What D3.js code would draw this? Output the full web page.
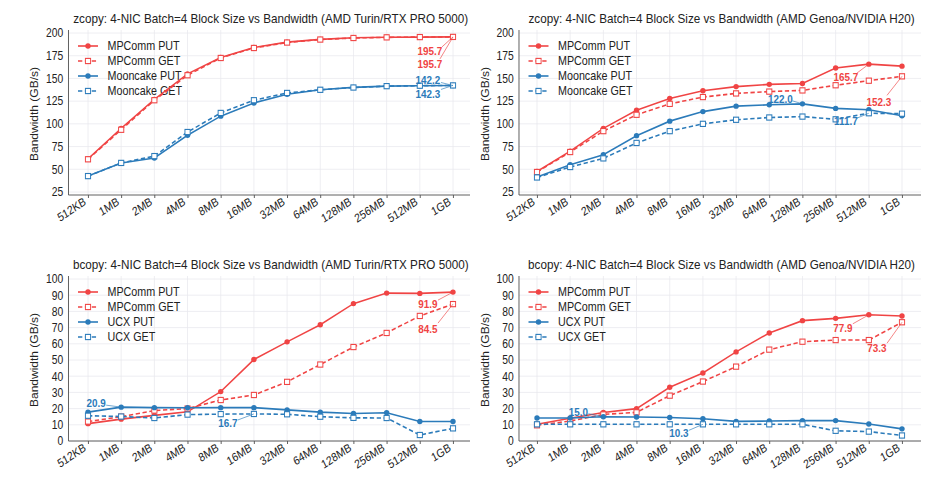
<!DOCTYPE html>
<html>
<head>
<meta charset="utf-8">
<script src="https://cdn.jsdelivr.net/npm/d3@7"></script>
<style>
body { margin: 0; background: #fff; }
svg { display: block; }
text { font-family: "Liberation Sans", Arial, sans-serif; }
</style>
</head>
<body>
<svg id="fig"></svg>
<script>
// block sizes on the x axis
var sizes = ["512KB", "1MB", "2MB", "4MB", "8MB", "16MB", "32MB", "64MB", "128MB", "256MB", "512MB", "1GB"];

// zcopy, AMD Turin / RTX PRO 5000
var zt_mpcomm_put = [61.5, 95, 127, 155, 173, 184, 190, 193, 194.8, 195.3, 195.5, 195.7];
var zt_mpcomm_get = [61, 93.5, 126, 153.5, 172.5, 183.5, 189.5, 192.8, 194.5, 195.2, 195.5, 195.7];
var zt_mooncake_put = [42.5, 57, 62.5, 87.5, 108.5, 123, 132.5, 137.5, 140.2, 141.5, 142, 142.2];
var zt_mooncake_get = [42.5, 57, 64.5, 91, 112, 126, 134, 137.5, 140, 141.5, 142, 142.3];

// zcopy, AMD Genoa / NVIDIA H20
var zg_mpcomm_put = [47.5, 70, 95, 115, 128, 136.5, 141, 143.5, 144.5, 161.5, 165.7, 163.5];
var zg_mpcomm_get = [47, 69, 92, 110, 122, 129.5, 133.5, 135.5, 136.8, 142.5, 147.5, 152.3];
var zg_mooncake_put = [41.5, 55, 66, 87, 103, 113.5, 119.5, 121, 122.0, 117, 115.5, 109];
var zg_mooncake_get = [41, 52.5, 62, 79, 92, 100, 104.5, 107, 108, 105, 111.7, 111.2];

// bcopy, AMD Turin / RTX PRO 5000
var bt_mpcomm_put = [10.7, 13.5, 15.8, 18, 30.5, 50.3, 61.2, 71.8, 84.8, 91.3, 91.1, 91.9];
var bt_mpcomm_get = [12, 15, 18.8, 20, 25.3, 28.4, 36.5, 47.2, 58, 66.7, 77.2, 84.5];
var bt_ucx_put = [17.8, 20.9, 20.6, 20.5, 20.6, 20.6, 19.2, 17.8, 17, 17.4, 12, 12];
var bt_ucx_get = [15.6, 15.1, 14.2, 16.3, 16.6, 16.7, 16.5, 15, 14.3, 14.2, 3.7, 7.8];

// bcopy, AMD Genoa / NVIDIA H20
var bg_mpcomm_put = [10.3, 14, 17.6, 20, 33.2, 42, 55, 66.7, 74.3, 75.7, 77.9, 77.2];
var bg_mpcomm_get = [9.7, 12.3, 16.4, 17.7, 28, 36.7, 45.9, 56.4, 61.3, 62.3, 62.3, 73.3];
var bg_ucx_put = [14.2, 14.2, 15.0, 14.8, 14.5, 13.7, 12.1, 12.3, 12.6, 12.6, 10.5, 7.5];
var bg_ucx_get = [10.3, 10.3, 10.3, 10.3, 10.3, 10.3, 10.3, 10.3, 10.3, 6.3, 5.8, 3.4];

var zcopy_ticks = [25, 50, 75, 100, 125, 150, 175, 200];
var bcopy_ticks = [0, 10, 20, 30, 40, 50, 60, 70, 80, 90, 100];

var RED = "#f04444", BLUE = "#2b7bba";

// the picture is squeezed horizontally, so draw wide and squash
var SX = 0.86, W = 942, H = 483;
var svg = d3.select("#fig")
    .attr("width", W).attr("height", H)
    .attr("viewBox", `0 0 ${W / SX} ${H}`)
    .attr("preserveAspectRatio", "none");

function series(name, values, color, dashed) {
    return {name: name, values: values, color: color, dashed: dashed};
}

var panels = [
    {
        title: "zcopy: 4-NIC Batch=4 Block Size vs Bandwidth (AMD Turin/RTX PRO 5000)",
        left: 68.5, right: 470, x0: 88, x1: 453, top: 33, bottom: 195, yb: 192,
        ydom: [25, 200], ticks: zcopy_ticks,
        series: [series("MPComm PUT", zt_mpcomm_put, RED, false),
                 series("MPComm GET", zt_mpcomm_get, RED, true),
                 series("Mooncake PUT", zt_mooncake_put, BLUE, false),
                 series("Mooncake GET", zt_mooncake_get, BLUE, true)],
        notes: [[0, 11, -23, 14, -11, 10], [1, 11, -23, 27, -13, 22],
                [2, 11, -25, -6, -12, -3], [3, 11, -25, 8, -12, 4]]
    },
    {
        title: "zcopy: 4-NIC Batch=4 Block Size vs Bandwidth (AMD Genoa/NVIDIA H20)",
        left: 519, right: 921, x0: 537, x1: 902, top: 33, bottom: 195, yb: 192,
        ydom: [25, 200], ticks: zcopy_ticks,
        series: [series("MPComm PUT", zg_mpcomm_put, RED, false),
                 series("MPComm GET", zg_mpcomm_get, RED, true),
                 series("Mooncake PUT", zg_mooncake_put, BLUE, false),
                 series("Mooncake GET", zg_mooncake_get, BLUE, true)],
        notes: [[0, 10, -23, 13, -12, 9], [1, 11, -23, 26, -15, 19],
                [2, 8, -22, -5, -10, -3], [3, 10, -23, 8, -12, 5]]
    },
    {
        title: "bcopy: 4-NIC Batch=4 Block Size vs Bandwidth (AMD Turin/RTX PRO 5000)",
        left: 68.5, right: 470, x0: 88, x1: 453, top: 279, bottom: 441, yb: 441,
        ydom: [0, 100], ticks: bcopy_ticks,
        series: [series("MPComm PUT", bt_mpcomm_put, RED, false),
                 series("MPComm GET", bt_mpcomm_get, RED, true),
                 series("UCX PUT", bt_ucx_put, BLUE, false),
                 series("UCX GET", bt_ucx_get, BLUE, true)],
        notes: [[2, 1, -25, -4, -15, -2], [3, 5, -26, 9, -16, 6],
                [0, 11, -25, 12, -15, 8], [1, 11, -25, 25, -15, 19]]
    },
    {
        title: "bcopy: 4-NIC Batch=4 Block Size vs Bandwidth (AMD Genoa/NVIDIA H20)",
        left: 519, right: 921, x0: 537, x1: 902, top: 279, bottom: 441, yb: 441,
        ydom: [0, 100], ticks: bcopy_ticks,
        series: [series("MPComm PUT", bg_mpcomm_put, RED, false),
                 series("MPComm GET", bg_mpcomm_get, RED, true),
                 series("UCX PUT", bg_ucx_put, BLUE, false),
                 series("UCX GET", bg_ucx_get, BLUE, true)],
        notes: [[2, 2, -25, -5, -15, -3], [3, 5, -24, 9, -14, 6],
                [0, 10, -26, 13, -16, 9], [1, 11, -25, 26, -15, 21]]
    }
];

panels.forEach(draw_panel);

function draw_panel(p) {
    var g = svg.append("g");
    var L = p.left / SX, R = p.right / SX;
    var x = d3.scalePoint().domain(sizes).range([p.x0 / SX, p.x1 / SX]);
    var y = d3.scaleLinear().domain(p.ydom).range([p.yb, p.top]);

    // grid
    g.append("g").selectAll("line").data(p.ticks).join("line")
        .attr("x1", L).attr("x2", R)
        .attr("y1", d => y(d)).attr("y2", d => y(d))
        .attr("stroke", "#e8e8ee").attr("stroke-width", 0.8);
    g.append("g").selectAll("line").data(sizes).join("line")
        .attr("x1", d => x(d)).attr("x2", d => x(d))
        .attr("y1", p.top - 3).attr("y2", p.bottom)
        .attr("stroke", "#e8e8ee").attr("stroke-width", 0.8);

    // axes
    var xa = g.append("g").attr("transform", `translate(0,${p.bottom})`)
        .call(d3.axisBottom(x).tickSize(3).tickSizeOuter(0));
    xa.select(".domain").remove();
    xa.selectAll("line").attr("stroke", "#555");
    xa.selectAll("text")
        .attr("font-size", "12px").attr("fill", "#222")
        .attr("dy", null).attr("y", 0)
        .attr("transform", "translate(-2,9) rotate(-30)")
        .style("text-anchor", "end");

    var ya = g.append("g").attr("transform", `translate(${L},0)`)
        .call(d3.axisLeft(y).tickValues(p.ticks).tickSize(0).tickPadding(6));
    ya.select(".domain").remove();
    ya.selectAll("text").attr("font-size", "12px").attr("fill", "#222");

    g.append("line").attr("x1", L).attr("x2", R).attr("y1", p.bottom).attr("y2", p.bottom)
        .attr("stroke", "#555").attr("stroke-width", 1);
    g.append("line").attr("x1", L).attr("x2", L).attr("y1", p.top - 3).attr("y2", p.bottom)
        .attr("stroke", "#555").attr("stroke-width", 1);

    // titles
    g.append("text")
        .attr("x", (p.left + p.right + 3) / 2 / SX).attr("y", p.top - 10)
        .attr("text-anchor", "middle").attr("font-size", "13.6px").attr("fill", "#222")
        .text(p.title);
    g.append("text")
        .attr("transform", `translate(${(p.left - 30) / SX},${(p.top + p.bottom) / 2}) rotate(-90)`)
        .attr("text-anchor", "middle").attr("font-size", "12px").attr("fill", "#222")
        .text("Bandwidth (GB/s)");

    // legend (no background, the curves run over it)
    var lg = g.append("g");
    p.series.forEach(function(s, k) {
        var ly = p.top + 13 + 15 * k;
        var a = (p.left + 9.5) / SX, b = (p.left + 29.5) / SX;
        lg.append("line").attr("x1", a).attr("x2", b).attr("y1", ly).attr("y2", ly)
            .attr("stroke", s.color).attr("stroke-width", 1.6)
            .attr("stroke-dasharray", s.dashed ? "5,3" : null);
        draw_markers(lg, s, [[(a + b) / 2, ly]]);
        lg.append("text").attr("x", (p.left + 39) / SX).attr("y", ly)
            .attr("dy", "0.36em").attr("font-size", "12.5px").attr("fill", "#222")
            .text(s.name);
    });

    // lines and markers
    var line = d3.line().x((d, i) => x(sizes[i])).y(d => y(d));
    p.series.forEach(function(s) {
        g.append("path").datum(s.values)
            .attr("d", line).attr("fill", "none")
            .attr("stroke", s.color).attr("stroke-width", 1.6)
            .attr("stroke-dasharray", s.dashed ? "5,3" : null);
        draw_markers(g, s, s.values.map((v, i) => [x(sizes[i]), y(v)]));
    });

    // value call-outs
    p.notes.forEach(function(n) {
        var s = p.series[n[0]], i = n[1];
        var px = x(sizes[i]), py = y(s.values[i]);
        g.append("line")
            .attr("x1", px + n[4] / SX).attr("y1", py + n[5])
            .attr("x2", px).attr("y2", py)
            .attr("stroke", s.color).attr("stroke-width", 0.7);
        g.append("text")
            .attr("x", px + n[2] / SX).attr("y", py + n[3])
            .attr("dy", "0.36em").attr("text-anchor", "middle")
            .attr("font-size", "11.5px").attr("font-weight", "bold").attr("fill", s.color)
            .text(s.values[i].toFixed(1));
    });
}

function draw_markers(g, s, pts) {
    if (s.dashed) {
        g.append("g").selectAll("rect").data(pts).join("rect")
            .attr("x", d => d[0] - 2.6 / SX).attr("y", d => d[1] - 2.6)
            .attr("width", 5.2 / SX).attr("height", 5.2)
            .attr("fill", "#fff").attr("stroke", s.color).attr("stroke-width", 1.1);
    } else {
        g.append("g").selectAll("ellipse").data(pts).join("ellipse")
            .attr("cx", d => d[0]).attr("cy", d => d[1])
            .attr("rx", 2.7 / SX).attr("ry", 2.7)
            .attr("fill", s.color);
    }
}
</script>
</body>
</html>
